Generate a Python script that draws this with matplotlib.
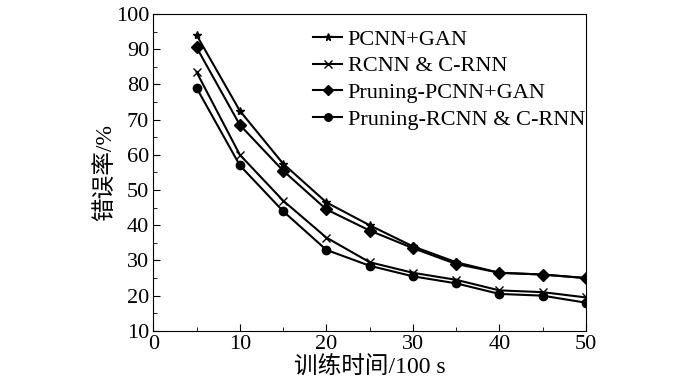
import numpy as np
import matplotlib.pyplot as plt

plt.rcParams['font.family'] = ['Liberation Serif', 'Noto Sans CJK SC']

# data
x = [5, 10, 15, 20, 25, 30, 35, 40, 45, 50]
pcnn_gan = [94, 72.5, 57.5, 46.5, 40, 34, 29.5, 26.5, 26, 25]
rcnn_crnn = [83.5, 60, 47, 36.5, 29.5, 26.5, 24.5, 21.5, 21, 19.5]
pr_pcnn_gan = [90.5, 68.5, 55.5, 44.5, 38.5, 33.5, 29, 26.5, 26, 25]
pr_rcnn_crnn = [79, 57, 44, 33, 28.5, 25.5, 23.5, 20.5, 20, 18]
labels = ['PCNN+GAN', 'RCNN & C-RNN', 'Pruning-PCNN+GAN', 'Pruning-RCNN & C-RNN']

fig = plt.figure(figsize=(7, 3.87), dpi=100)
ax = fig.add_axes([0.219, 0.145, 0.618, 0.819])

ax.plot(x, pcnn_gan, color='black', lw=1.5, marker='*', ms=6, label=labels[0])
ax.plot(x, rcnn_crnn, color='black', lw=1.5, marker='x', ms=6, mew=1, label=labels[1])
ax.plot(x, pr_pcnn_gan, color='black', lw=1.5, marker='D', ms=6, label=labels[2])
ax.plot(x, pr_rcnn_crnn, color='black', lw=1.5, marker='o', ms=6, label=labels[3])

ax.set_xlim(0, 50)
ax.set_ylim(10, 100)
ax.set_xticks(range(0, 51, 10))
ax.set_xticks(range(5, 50, 10), minor=True)
ax.set_yticks(range(10, 101, 10))
ax.set_yticks(range(15, 100, 10), minor=True)
ax.tick_params(which='both', direction='in', labelsize=16, top=False, right=False, pad=3)
ax.tick_params(which='major', length=5)
ax.tick_params(which='minor', length=3)

ax.set_xlabel('训练时间/100 s', fontsize=17, labelpad=2)
ax.set_ylabel('错误率/%', fontsize=17, labelpad=0)

ax.legend(loc='upper right', bbox_to_anchor=(0.998, 0.952), frameon=False, fontsize=16,
          handlelength=1.3, handletextpad=0.25, labelspacing=0.28,
          borderpad=0, borderaxespad=0, markerscale=0.9)

fig.savefig('out.png', dpi=100)
